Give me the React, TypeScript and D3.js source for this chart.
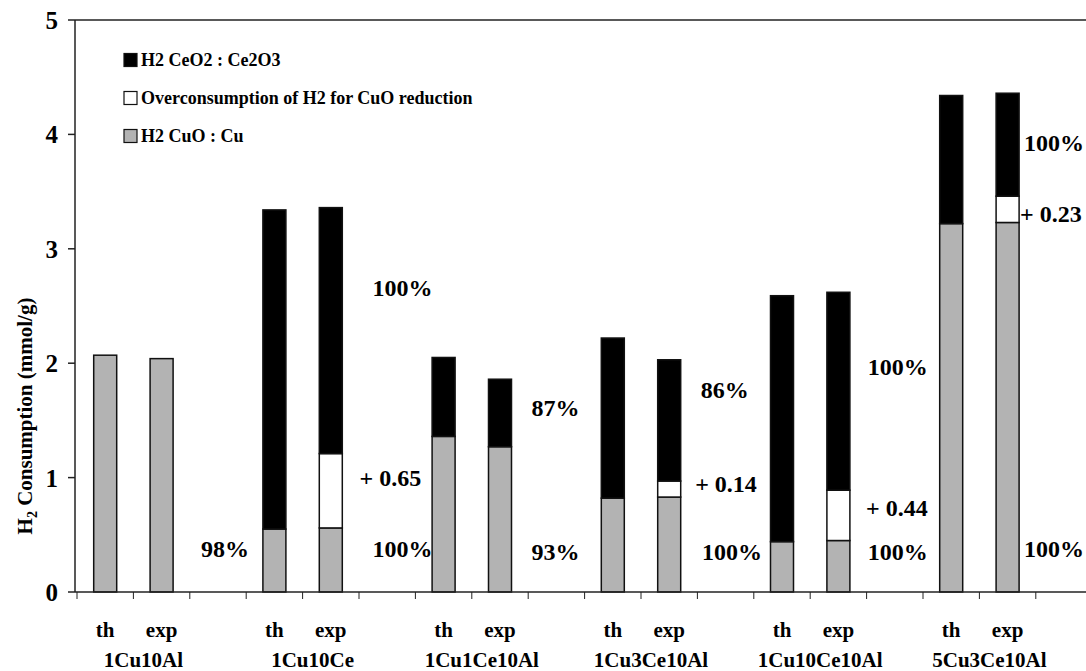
import React from 'react';
import * as d3 from 'd3';

const groups = ['1Cu10Al', '1Cu10Ce', '1Cu1Ce10Al', '1Cu3Ce10Al', '1Cu10Ce10Al', '5Cu3Ce10Al'];
// theoretical bars
const cuoTh = [2.07, 0.55, 1.36, 0.82, 0.44, 3.22];
const totalTh = [2.07, 3.34, 2.05, 2.22, 2.59, 4.34];
// experimental bars
const cuoExp = [2.04, 0.56, 1.27, 0.83, 0.45, 3.23];
const overExp = [0, 0.65, 0, 0.14, 0.44, 0.23];
const totalExp = [2.04, 3.36, 1.86, 2.03, 2.62, 4.36];

const yTicks = [0, 1, 2, 3, 4, 5];
const barKinds = ['th', 'exp'];

const legendItems = [
  { key: 'ce', label: 'H2 CeO2 : Ce2O3' },
  { key: 'over', label: 'Overconsumption of H2 for CuO reduction' },
  { key: 'cuo', label: 'H2 CuO : Cu' },
];

// annotation texts, anchored at (slot, value)
const noteText = ['98%', '100%', '+ 0.65', '100%', '87%', '93%', '86%', '+ 0.14', '100%', '100%', '+ 0.44', '100%', '100%', '+ 0.23', '100%'];
const noteSlot = [2.2, 5.24, 5.01, 5.24, 8.06, 8.06, 11.06, 10.96, 11.08, 14.02, 13.99, 14.02, 16.79, 16.72, 16.79];
const noteValue = [0.38, 2.66, 1.0, 0.38, 1.61, 0.35, 1.77, 0.95, 0.35, 1.97, 0.74, 0.35, 3.93, 3.31, 0.38];

const W = 1086;
const H = 671;
const fills: Record<string, string> = { cuo: '#b3b3b3', over: '#ffffff', ce: '#000000' };
const font = "'Liberation Serif', 'Times New Roman', serif";

export default function App() {
  const left = 75;
  const slotW = 56.4;
  const nSlots = groups.length * 3;
  const x = d3.scaleBand<number>().domain(d3.range(nSlots)).range([77, 77 + nSlots * slotW]);
  const xs = d3.scaleLinear().domain([0, nSlots]).range([77, 77 + nSlots * slotW]);
  const y = d3.scaleLinear().domain([0, 5]).range([592, 20]);
  const barW = 23;

  const rows = groups.flatMap((g, i) => [
    { slot: 3 * i, cuo: cuoTh[i], over: 0, ce: totalTh[i] - cuoTh[i] },
    { slot: 3 * i + 1, cuo: cuoExp[i], over: overExp[i], ce: totalExp[i] - cuoExp[i] - overExp[i] },
  ]);
  const series = d3.stack<any>().keys(['cuo', 'over', 'ce'])(rows);

  return (
    <svg width={W} height={H} style={{ position: 'absolute', left: 0, top: 0, background: '#fff' }}
      fontFamily={font} fontWeight="bold">
      {/* top frame line */}
      <line x1={left} x2={W} y1={y(5)} y2={y(5)} stroke="#222" strokeWidth={1.5} />
      {/* y axis */}
      <line x1={left} x2={left} y1={y(5)} y2={y(0)} stroke="#222" strokeWidth={1.5} />
      {yTicks.map(t => (
        <g key={t}>
          <line x1={left - 7} x2={left} y1={y(t)} y2={y(t)} stroke="#222" strokeWidth={1.5} />
          <text x={58} y={y(t)} dy="0.36em" textAnchor="end" fontSize={25}>{t}</text>
        </g>
      ))}
      <text transform={`translate(32,${(y(0) + y(5)) / 2 + 110}) rotate(-90)`} textAnchor="middle" fontSize={21}>
        H<tspan fontSize={14} dy={5}>2</tspan><tspan dy={-5}> Consumption (mmol/g)</tspan>
      </text>

      {/* bars */}
      {series.map(s => (
        <g key={s.key} fill={fills[s.key]} stroke="#111" strokeWidth={1.5}>
          {s.filter(d => d[1] - d[0] > 0).map((d, i) => (
            <rect key={i}
              x={x(d.data.slot)! + x.bandwidth() / 2 - barW / 2}
              y={y(d[1])}
              width={barW}
              height={y(d[0]) - y(d[1])} />
          ))}
        </g>
      ))}

      {/* x axis */}
      <line x1={left} x2={W} y1={y(0)} y2={y(0)} stroke="#222" strokeWidth={1.5} />
      {d3.range(nSlots + 1).map(i => (
        <line key={i} x1={xs(i)} x2={xs(i)} y1={y(0)} y2={y(0) + 7} stroke="#222" strokeWidth={1} />
      ))}
      {groups.map((g, i) => (
        <g key={g} fontSize={21}>
          {barKinds.map((k, j) => (
            <text key={k} x={xs(3 * i + j + 0.5)} y={637} textAnchor="middle">{k}</text>
          ))}
          <text x={xs(3 * i + 1) + 10} y={667} textAnchor="middle">{g}</text>
        </g>
      ))}

      {/* annotations */}
      {noteText.map((t, i) => (
        <text key={i} x={xs(noteSlot[i])} y={y(noteValue[i])} dy="0.35em" fontSize={24}>{t}</text>
      ))}

      {/* legend */}
      {legendItems.map((d, i) => (
        <g key={d.key} transform={`translate(124,${60 + i * 38})`}>
          <rect x={0} y={-6.5} width={13} height={13} fill={fills[d.key]} stroke="#111" strokeWidth={1.2} />
          <text x={17} y={0} dy="0.35em" fontSize={18}>{d.label}</text>
        </g>
      ))}
    </svg>
  );
}
